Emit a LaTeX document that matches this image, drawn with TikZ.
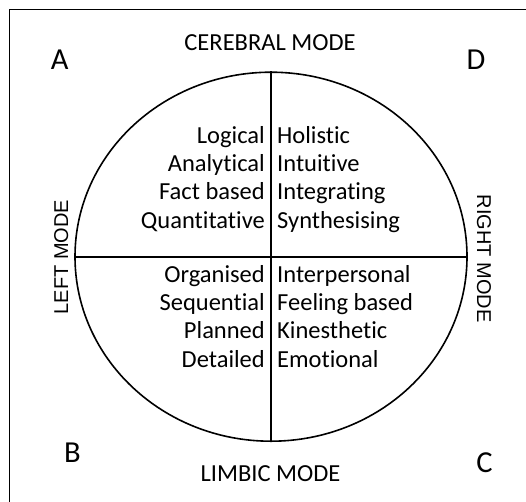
\documentclass[tikz,border=0pt]{standalone}
\usepackage{fontspec}
\setmainfont[Ligatures={NoCommon}]{Carlito}
\newfontfamily\modefont{Liberation Sans}
\usetikzlibrary{shapes.geometric}
\begin{document}
\begin{tikzpicture}[x=1pt,y=1pt,
  frame/.style={line width=1.6pt},
  word/.style={inner sep=0pt, font=\fontsize{24.5}{28}\selectfont},
  lefttxt/.style={word, anchor=base east},
  righttxt/.style={word, anchor=base west},
  label/.style={word, anchor=base},
  letter/.style={inner sep=0pt, anchor=base, font=\fontsize{30.5}{34}\selectfont},
  sidemode/.style={inner sep=0pt, anchor=base, font=\modefont\fontsize{20}{24}\selectfont}]
\useasboundingbox (0,0) rectangle (526,-501);
% outer frame, running off the right and bottom edges
\begin{scope}
  \clip (0,0) rectangle (526,-501);
  \draw[frame] (9.5,-9.5) rectangle (560,-540);
\end{scope}
% the whole-brain ellipse and its quadrant dividers
\node[frame, draw, ellipse, inner sep=0pt, minimum width=392pt, minimum height=369pt]
  (brain) at (271,-256.7) {};
\draw[frame] (brain.north) -- (brain.south);
\draw[frame] (brain.west) -- (brain.east);
% quadrant descriptors
\foreach \t [count=\i] in {Logical, Analytical, Fact based, Quantitative}
  \node[lefttxt] (ul\i) at (265, {-143-28.4*(\i-1)}) {\t};
\foreach \t [count=\i] in {Holistic, Intuitive, Integrating, Synthesising}
  \node[righttxt] (ur\i) at (277, {-143-28.4*(\i-1)}) {\t};
\foreach \t [count=\i] in {Organised, Sequential, Planned, Detailed}
  \node[lefttxt] (ll\i) at (265, {-282-28.4*(\i-1)}) {\t};
\foreach \t [count=\i] in {Interpersonal, Feeling based, Kinesthetic, Emotional}
  \node[righttxt] (lr\i) at (277, {-282-28.4*(\i-1)}) {\t};
% mode names
\node[label] (cerebral) at (270,-50) {CEREBRAL MODE};
\node[label] (limbic) at (270.5,-481) {LIMBIC MODE};
\node[sidemode, rotate=90] (leftmode) at (68,-257) {LEFT MODE};
\node[sidemode, rotate=-90] (rightmode) at (477,-258.5) {RIGHT MODE};
% quadrant letters
\node[letter] (qa) at (59.7,-69) {A};
\node[letter] (qd) at (476,-69) {D};
\node[letter] (qb) at (72.5,-462) {B};
\node[letter] (qc) at (484.5,-472) {C};
\end{tikzpicture}
\end{document}
